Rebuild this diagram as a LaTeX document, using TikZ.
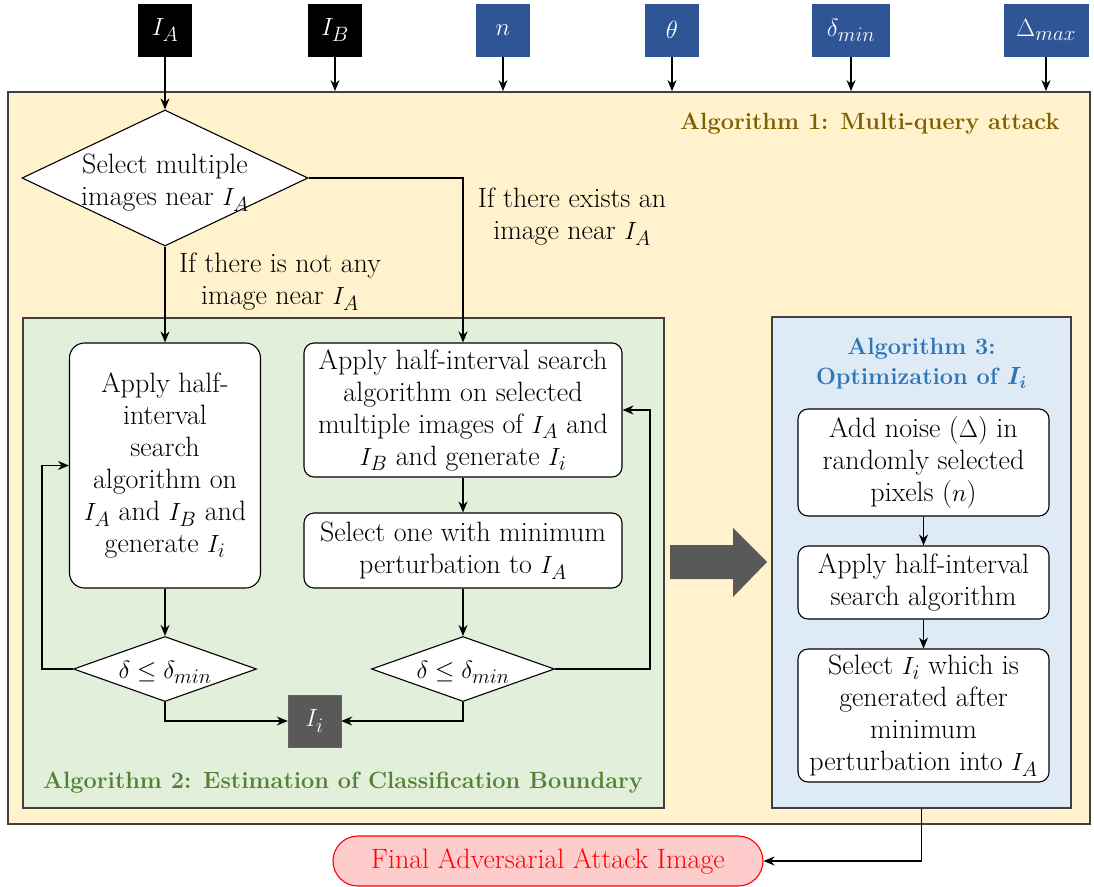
\documentclass[tikz,border=0pt]{standalone}
\usetikzlibrary{arrows.meta,shapes.geometric}
\definecolor{inblue}{HTML}{2F5597}
\definecolor{alganefill}{HTML}{FFF2CC}
\definecolor{alganetext}{HTML}{7F6000}
\definecolor{algtwofill}{HTML}{E2EFDA}
\definecolor{algtwotext}{HTML}{548235}
\definecolor{algthreefill}{HTML}{DEEBF7}
\definecolor{algthreetext}{HTML}{2E75B6}
\definecolor{darkgray}{HTML}{595959}
\definecolor{finalfill}{HTML}{FFCCCC}
\newcommand{\bodyfont}{\fontsize{28}{32}\selectfont}
\newcommand{\titlefont}{\fontsize{23.5}{30}\selectfont\bfseries}

\tikzset{
  arr/.style={-{Stealth[length=11pt,width=9pt]}, line width=1.3pt},
  inbox/.style={text=white, inner sep=0pt, minimum height=53, minimum width=54},
  frame/.style={draw=black!75, line width=1.8pt},
  stepbox/.style={draw, fill=white, line width=1.1pt, rounded corners=10pt, align=center, inner sep=0pt},
  decision/.style={diamond, draw, fill=white, line width=1.1pt, inner sep=0pt},
  title/.style={font=\titlefont, align=center},
}

\begin{document}
\begin{tikzpicture}[x=1pt, y=-1pt, font=\bodyfont]
  \useasboundingbox (0,0) rectangle (1094,886);

  % frames
  \node[frame, fill=alganefill, minimum width=1082, minimum height=732] (alg1) at (549,458) {};
  \node[frame, fill=algtwofill, line width=1.2pt, minimum width=641, minimum height=490] (alg2) at (343.5,563) {};
  \node[frame, fill=algthreefill, line width=1.2pt, minimum width=299, minimum height=491] (alg3) at (921.5,562.5) {};
  \node[title, text=alganetext, anchor=east] (alg1title) at (1063,124) {Algorithm 1: Multi-query attack};
  \node[title, text=algtwotext] (alg2title) at (343,783) {Algorithm 2: Estimation of Classification Boundary};
  \node[title, text=algthreetext] (alg3title) at (921.5,364) {Algorithm 3:\\Optimization of {\boldmath$I_i$}};

  % inputs
  \foreach \name/\x/\w/\col/\txt in {ia/165/54/black/I_A, ib/335/54/black/I_B, n/503/54/inblue/n,
      theta/672/54/inblue/\theta, dmin/851/78/inblue/\delta_{min}, dmax/1046/85/inblue/\Delta_{max}}
    \node[inbox, fill=\col, minimum width=\w] (\name) at (\x,30) {$\txt$};

  % algorithm 1 / 2
  \node[decision, minimum width=286, minimum height=136] (sel) at (165,178) {};
  \node[align=center] (seltext) at (165,183) {Select multiple\\images near $I_A$};
  \node[align=center] (exists) at (572,217) {If there exists an\\image near $I_A$};
  \node[align=center] (notany) at (280,282) {If there is not any\\image near $I_A$};
  \node[stepbox, rounded corners=15pt, minimum width=191, minimum height=245] (box1) at (165,465.5)
    {Apply half-\\interval\\search\\algorithm on\\$I_A$ and $I_B$ and\\generate $I_i$};
  \node[stepbox, minimum width=318, minimum height=134] (box2) at (463,410)
    {Apply half-interval search\\algorithm on selected\\multiple images of $I_A$ and\\$I_B$ and generate $I_i$};
  \node[stepbox, minimum width=318, minimum height=75] (box3) at (463,550.5)
    {Select one with minimum\\perturbation to $I_A$};
  \node[decision, minimum width=183, minimum height=65] (dl) at (165,669) {};
  \node (dltext) at (165,672) {$\delta\leq\delta_{min}$};
  \node[decision, minimum width=183, minimum height=65] (dr) at (463,669) {};
  \node (drtext) at (463,672) {$\delta\leq\delta_{min}$};
  \node[draw=black!60, fill=darkgray, text=white, minimum width=53, minimum height=52] (ii) at (314.5,721) {$I_i$};

  % algorithm 3
  \node[stepbox, minimum width=251, minimum height=107] (bA) at (923.5,462.5)
    {Add noise ($\Delta$) in\\randomly selected\\pixels ($n$)};
  \node[stepbox, minimum width=251, minimum height=73] (bB) at (923.5,582.5)
    {Apply half-interval\\search algorithm};
  \node[stepbox, minimum width=251, minimum height=133] (bC) at (923.5,715.5)
    {Select $I_i$ which is\\generated after\\minimum\\perturbation into $I_A$};
  \fill[darkgray] (670,545) -- (733,545) -- (733,528) -- (767,562) -- (733,597) -- (733,579) -- (670,579) -- cycle;

  \node[draw=red, fill=finalfill, text=red, line width=1.1pt, rounded corners=25pt,
    minimum width=430, minimum height=50] (final) at (548,861) {Final Adversarial Attack Image};

  % connectors
  \draw[arr] (ia) -- (sel);
  \foreach \name in {ib, n, theta, dmin, dmax}
    \draw[arr] (\name) -- (\name |- alg1.north);
  \draw[arr] (sel.east) -| (box2.north);
  \draw[arr] (sel.south) -- (box1.north);
  \draw[arr] (box1) -- (dl);
  \draw[arr] (box2) -- (box3);
  \draw[arr] (box3) -- (dr);
  \draw[arr] (dl.south) |- (ii.west);
  \draw[arr] (dr.south) |- (ii.east);
  \draw[arr] (dl.west) -- ++(-31,0) |- (box1.west);
  \draw[arr] (dr.east) -- ++(95,0) |- (box2.east);
  \draw[arr] (bA) -- (bB);
  \draw[arr] (bB) -- (bC);
  \draw[arr] (alg3.south) |- (final.east);
\end{tikzpicture}
\end{document}
